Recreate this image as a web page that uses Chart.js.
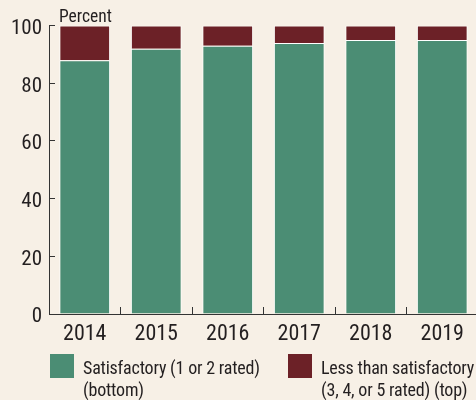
<!DOCTYPE html>
<html>
<head>
<meta charset="utf-8">
<script src="https://cdn.jsdelivr.net/npm/chart.js@4/dist/chart.umd.min.js"></script>
<style>
  html, body { margin: 0; padding: 0; background: #f7f0e6; overflow: hidden; }
  #wrap { position: relative; width: 478px; height: 400px; }
  .legend-item { position: absolute; top: 354px; font-family: 'Roboto Condensed', 'Liberation Sans', sans-serif;
                 font-size: 18px; letter-spacing: -0.2px; line-height: 22px; color: #231f20; }
  .legend-box { position: absolute; left: 0; top: 0; width: 24px; height: 24px; }
  .legend-text { position: absolute; left: 33px; top: 3px; white-space: nowrap; }
</style>
</head>
<body>
<div id="wrap">
  <canvas id="bar-chart" width="478" height="400"></canvas>
  <div class="legend-item" style="left:50px"><div class="legend-box" id="box0"></div><div class="legend-text" id="txt0"></div></div>
  <div class="legend-item" style="left:288px"><div class="legend-box" id="box1"></div><div class="legend-text" id="txt1"></div></div>
</div>
<script>
// chart values
var years = ['2014', '2015', '2016', '2017', '2018', '2019'];
var satisfactory = [88, 92, 93, 94, 95, 95];
var lessThanSatisfactory = [12, 8, 7, 6, 5, 5];
var yTicks = [0, 20, 40, 60, 80, 100];
var legendLines = [
    ['Satisfactory (1 or 2 rated)', '(bottom)'],
    ['Less than satisfactory', '(3, 4, or 5 rated) (top)']
];

var fontFamily = "'Roboto Condensed', 'Liberation Sans', sans-serif";
var textColor = '#231f20';
var green = '#4b8d74';
var red = '#6c2127';

// "Percent" label above the y axis
var percentLabel = {
    id: 'percentLabel',
    afterDraw: function(chart) {
        var c = chart.ctx;
        c.save();
        c.font = '17.5px ' + fontFamily;
        c.fillStyle = textColor;
        c.textBaseline = 'alphabetic';
        c.fillText('Percent', chart.chartArea.left + 10, 22);
        c.restore();
    }
};

var ctx = document.getElementById('bar-chart').getContext('2d');

var myChart = new Chart(ctx, {
    type: 'bar',
    data: {
        labels: years,
        datasets: [{
            label: legendLines[0].join(' '),
            data: satisfactory,
            backgroundColor: green,
            borderColor: '#ffffff',
            borderWidth: 1,
            barPercentage: 0.71,
            categoryPercentage: 1
        }, {
            label: legendLines[1].join(' '),
            data: lessThanSatisfactory,
            backgroundColor: red,
            borderColor: '#ffffff',
            borderWidth: 1,
            barPercentage: 0.71,
            categoryPercentage: 1
        }]
    },
    options: {
        responsive: false,
        animation: false,
        layout: { padding: { top: 25, left: 0, right: 0, bottom: 0 } },
        plugins: {
            legend: { display: false },
            tooltip: { enabled: false }
        },
        scales: {
            x: {
                stacked: true,
                border: { color: '#333333', width: 1 },
                grid: { drawOnChartArea: false, drawTicks: true, tickLength: -7, color: '#333333' },
                ticks: { color: textColor, font: { family: fontFamily, size: 22 }, padding: 14, maxRotation: 0 },
                afterFit: function(scale) { scale.height = 86; }
            },
            y: {
                stacked: true,
                min: 0,
                max: 100,
                afterBuildTicks: function(scale) {
                    scale.ticks = yTicks.map(function(v) { return { value: v }; });
                },
                border: { color: '#333333', width: 1 },
                grid: { drawOnChartArea: false, drawTicks: true, tickLength: -6, color: '#333333' },
                ticks: { color: textColor, font: { family: fontFamily, size: 21 }, padding: 13, labelOffset: 3 },
                afterFit: function(scale) { scale.width = 49; }
            }
        }
    },
    plugins: [percentLabel]
});

// html legend with two-line labels
var colors = [green, red];
for (var i = 0; i < 2; i++) {
    document.getElementById('box' + i).style.background = colors[i];
    document.getElementById('txt' + i).innerHTML = legendLines[i].join('<br>');
}
</script>
</body>
</html>
